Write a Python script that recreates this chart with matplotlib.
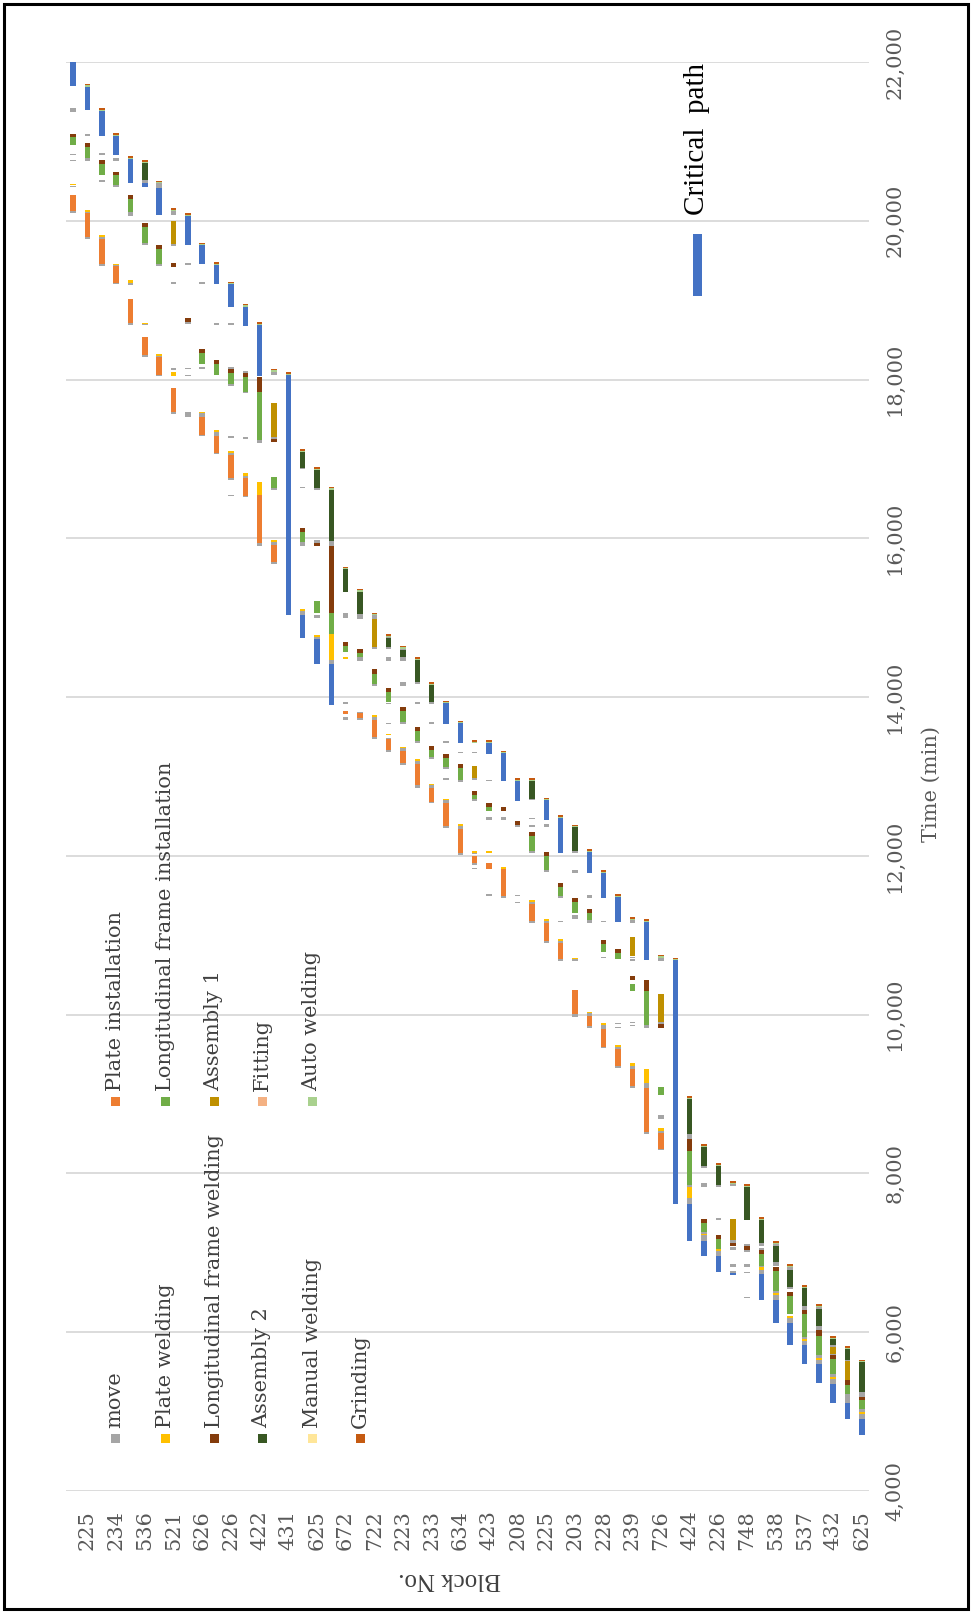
import matplotlib
matplotlib.use('Agg')
import matplotlib.pyplot as plt
from matplotlib.patches import Rectangle
from matplotlib.ticker import FuncFormatter

# ── block rows (only every other row carries a printed number) ──
BLOCK_LABELS = ['225', '234', '536', '521', '626', '226', '422', '431', '625', '672',
                '722', '223', '233', '634', '423', '208', '225', '203', '228', '239',
                '726', '424', '226', '748', '538', '537', '432', '625']
N_ROWS = 56

# ── task segments: (row, start_min, end_min) ──
MOVE = [
    (0, 20100, 20120), (0, 20420, 20440), (0, 20750, 20770), (0, 20830, 20840), (0, 21370, 21420),
    (1, 19770, 19790), (1, 20100, 20115), (1, 20750, 20790), (1, 21070, 21090),
    (2, 19430, 19460), (2, 19770, 19800), (2, 20490, 20510), (2, 20830, 20860),
    (3, 19200, 19210), (3, 19430, 19445), (3, 20420, 20450), (3, 20750, 20790),
    (4, 18690, 18715), (4, 19190, 19215), (4, 20060, 20110),
    (5, 18280, 18310), (5, 18690, 18700), (5, 19690, 19715), (5, 20470, 20510),
    (6, 18050, 18060), (6, 18280, 18300), (6, 19430, 19460), (6, 20415, 20470),
    (7, 17565, 17590), (7, 18120, 18140), (7, 18695, 18705), (7, 19200, 19230), (7, 19685, 19705), (7, 20072, 20120),
    (8, 17530, 17590), (8, 18050, 18060), (8, 18130, 18145), (8, 18700, 18720), (8, 19440, 19470),
    (9, 17290, 17300), (9, 17530, 17575), (9, 18130, 18160), (9, 19200, 19230),
    (10, 17060, 17070), (10, 17290, 17345), (10, 18690, 18715),
    (11, 16530, 16540), (11, 16740, 16755), (11, 17045, 17070), (11, 17270, 17290), (11, 17920, 17940),
    (11, 18127, 18160), (11, 18690, 18715),
    (12, 16520, 16530), (12, 16755, 16790), (12, 17255, 17280), (12, 17825, 17845), (12, 18077, 18110),
    (13, 15905, 15935), (13, 17205, 17240),
    (14, 15680, 15700), (14, 15915, 15955), (14, 16610, 16630), (14, 17250, 17280), (14, 18056, 18098),
    (16, 15030, 15080), (16, 15905, 15955), (16, 16640, 16650), (16, 16870, 16888),
    (17, 14730, 14760), (17, 15000, 15030), (17, 15940, 15975), (17, 16610, 16630),
    (18, 14420, 14465), (18, 15905, 15965),
    (19, 13715, 13750), (19, 13910, 13940), (19, 15000, 15065),
    (20, 13715, 13743), (20, 13800, 13815), (20, 14450, 14500), (20, 14990, 15045),
    (21, 13470, 13500), (21, 13715, 13750), (21, 14140, 14170), (21, 14600, 14625), (21, 14982, 15032),
    (22, 13310, 13330), (22, 13470, 13490), (22, 13665, 13675), (22, 13915, 13925), (22, 14455, 14500),
    (22, 14600, 14635), (22, 14740, 14760),
    (23, 13150, 13170), (23, 13315, 13355), (23, 13660, 13690), (23, 14145, 14185), (23, 14460, 14500),
    (23, 14590, 14610),
    (24, 12860, 12890), (24, 13155, 13190), (24, 13420, 13450), (24, 13910, 13935), (24, 14170, 14195),
    (25, 12660, 12680), (25, 12860, 12890), (25, 13215, 13240), (25, 13660, 13690), (25, 13915, 13940),
    (26, 12345, 12375), (26, 12670, 12700), (26, 12950, 12980), (26, 13090, 13115), (26, 13425, 13450),
    (27, 12010, 12040), (27, 12335, 12380), (27, 12935, 12960), (27, 13295, 13310),
    (28, 11830, 11850), (28, 11890, 11910), (28, 12020, 12040), (28, 12690, 12720), (28, 12950, 12975),
    (28, 13295, 13310),
    (29, 11495, 11520), (29, 12455, 12485), (29, 12940, 12950), (29, 12990, 13000),
    (30, 11470, 11500), (30, 12455, 12485),
    (31, 11410, 11420), (31, 11495, 11505), (31, 12360, 12390),
    (32, 11150, 11175), (32, 11400, 11420), (32, 12040, 12065), (32, 12360, 12395), (32, 12460, 12480),
    (32, 12700, 12720),
    (33, 10900, 10925), (33, 11155, 11180), (33, 11795, 11820), (33, 12365, 12405),
    (34, 10680, 10700), (34, 10905, 10930), (34, 11170, 11180), (34, 11470, 11495),
    (35, 9975, 10005), (35, 10675, 10700), (35, 11210, 11250), (35, 11785, 11825), (35, 12035, 12065),
    (36, 9830, 9855), (36, 9985, 10015), (36, 11160, 11190), (36, 11475, 11505),
    (37, 9575, 9595), (37, 9815, 9875), (37, 10715, 10730), (37, 11170, 11180), (37, 11250, 11260),
    (38, 9330, 9350), (38, 9570, 9595), (38, 9830, 9840), (38, 9880, 9890),
    (39, 9080, 9100), (39, 9320, 9350), (39, 9860, 9875), (39, 9890, 9910), (39, 10680, 10700),
    (39, 10710, 10730), (39, 11150, 11190),
    (40, 8500, 8520), (40, 9080, 9140), (40, 9830, 9865),
    (41, 8290, 8305), (41, 8505, 8540), (41, 8680, 8730), (41, 9880, 9905), (41, 10677, 10719),
    (43, 7620, 7690), (43, 7830, 7860), (43, 8440, 8500),
    (44, 7155, 7225), (44, 7240, 7260), (44, 7830, 7880), (44, 8070, 8100),
    (45, 6955, 7020), (45, 7410, 7445), (45, 7830, 7860),
    (46, 6740, 6770), (46, 6820, 6865), (46, 7030, 7070), (46, 7130, 7160), (46, 7837, 7865),
    (47, 6435, 6445), (47, 6740, 6755), (47, 6820, 6865), (47, 7010, 7030), (47, 7085, 7110),
    (48, 6730, 6785), (48, 6820, 6840), (48, 7040, 7065), (48, 7080, 7130),
    (49, 6400, 6465), (49, 6500, 6525), (49, 6840, 6885), (49, 7080, 7115),
    (50, 6115, 6180), (50, 6540, 6575), (50, 6785, 6820),
    (51, 5835, 5895), (51, 5915, 5945), (51, 6275, 6330),
    (52, 5595, 5655), (52, 5680, 5710), (52, 6025, 6080), (52, 6290, 6320),
    (53, 5350, 5405), (53, 5435, 5470), (53, 5710, 5730), (53, 5820, 5845),
    (54, 5110, 5225), (54, 5635, 5655),
    (55, 4910, 4965), (55, 4995, 5035), (55, 5190, 5245),
]

PLATE_INST = [
    (0, 20120, 20330), (1, 19790, 20100), (2, 19460, 19770), (3, 19210, 19430), (4, 18715, 19010),
    (5, 18310, 18530), (6, 18060, 18280), (7, 17590, 17890), (9, 17300, 17530), (10, 17070, 17290),
    (11, 16755, 17045), (12, 16530, 16755), (13, 15935, 16545), (14, 15700, 15915), (19, 13785, 13830),
    (20, 13743, 13800), (21, 13500, 13715), (22, 13330, 13470), (23, 13170, 13315), (24, 12890, 13155),
    (25, 12680, 12860), (26, 12375, 12670), (27, 12040, 12335), (28, 11910, 12000), (29, 11830, 11910),
    (30, 11500, 11840), (32, 11175, 11400), (33, 10925, 11155), (34, 10700, 10905), (35, 10005, 10315),
    (36, 9855, 9985), (37, 9595, 9815), (38, 9350, 9570), (39, 9100, 9320), (40, 8520, 9080),
    (41, 8305, 8505),
]

PLATE_WELD = [
    (0, 20450, 20466), (1, 20115, 20140), (2, 19800, 19815), (3, 19445, 19460), (4, 19215, 19250),
    (5, 18700, 18715), (6, 18300, 18320), (7, 18050, 18090), (9, 17575, 17595), (10, 17345, 17370),
    (11, 17070, 17095), (12, 16790, 16820), (13, 16545, 16710), (14, 15955, 15985), (16, 15083, 15108),
    (17, 14760, 14780), (18, 14465, 14800), (19, 14480, 14500), (21, 13750, 13772), (22, 13520, 13535),
    (23, 13355, 13375), (24, 13190, 13220), (25, 12890, 12910), (26, 12700, 12720), (27, 12380, 12405),
    (28, 12040, 12063), (29, 12040, 12060), (30, 11840, 11865), (32, 11420, 11440), (33, 11180, 11200),
    (34, 10930, 10950), (35, 10700, 10720), (36, 10015, 10035), (37, 9875, 9895), (38, 9595, 9615),
    (39, 9350, 9385), (40, 9140, 9310), (41, 8540, 8575), (43, 7690, 7830), (44, 7225, 7240),
    (45, 7020, 7045), (48, 6785, 6820), (49, 6465, 6500), (50, 6180, 6200), (51, 5895, 5915),
    (52, 5655, 5680), (53, 5405, 5435), (55, 4965, 4995),
]

LONG_INST = [
    (0, 20950, 21050), (1, 20790, 20930), (2, 20580, 20710), (3, 20450, 20580), (4, 20110, 20280),
    (5, 19715, 19920), (6, 19460, 19650), (9, 18200, 18340), (10, 18055, 18200), (11, 17940, 18077),
    (12, 17845, 18035), (13, 17240, 17845), (14, 16630, 16770), (16, 15955, 16075), (17, 15065, 15210),
    (18, 14800, 15065), (19, 14570, 14640), (20, 14500, 14557), (21, 14170, 14297), (22, 13940, 14065),
    (23, 13690, 13827), (24, 13450, 13575), (25, 13240, 13340), (26, 13115, 13235), (27, 12960, 13110),
    (28, 12720, 12765), (29, 12560, 12620), (32, 12065, 12250), (33, 11820, 12000), (34, 11495, 11610),
    (35, 11280, 11420), (36, 11190, 11280), (37, 10790, 10895), (38, 10705, 10780), (39, 10300, 10380),
    (40, 9865, 10300), (41, 8990, 9095), (43, 7860, 8285), (44, 7260, 7380), (45, 7045, 7170),
    (48, 6840, 6990), (49, 6525, 6770), (50, 6225, 6455), (51, 5945, 6225), (52, 5710, 5955),
    (53, 5470, 5660), (54, 5225, 5340), (55, 5035, 5140),
]

LONG_WELD = [
    (0, 21050, 21090), (1, 20930, 20980), (2, 20710, 20760), (3, 20580, 20620), (4, 20280, 20330),
    (5, 19920, 19970), (6, 19650, 19700), (7, 19420, 19470), (8, 18720, 18770), (9, 18340, 18390),
    (10, 18200, 18250), (11, 18077, 18127), (12, 18035, 18077), (13, 17845, 18035), (14, 17210, 17250),
    (16, 16075, 16125), (17, 15905, 15940), (18, 15065, 15905), (19, 14640, 14695), (20, 14557, 14612),
    (21, 14297, 14350), (22, 14065, 14110), (23, 13827, 13877), (24, 13575, 13625), (25, 13340, 13385),
    (26, 13235, 13280), (27, 13110, 13160), (28, 12765, 12815), (29, 12620, 12665), (30, 12560, 12610),
    (31, 12390, 12445), (32, 12250, 12300), (33, 12000, 12050), (34, 11610, 11660), (35, 11420, 11475),
    (36, 11280, 11335), (37, 10895, 10945), (38, 10780, 10830), (39, 10440, 10490), (40, 10300, 10435),
    (41, 9835, 9880), (43, 8285, 8440), (44, 7380, 7430), (45, 7170, 7220), (46, 7080, 7130),
    (47, 7030, 7085), (48, 6990, 7040), (49, 6770, 6820), (50, 6455, 6505), (51, 6225, 6275),
    (52, 5955, 6025), (53, 5660, 5710), (54, 5340, 5400), (55, 5140, 5190),
]

ASSEMBLY1 = [
    (7, 19705, 20000), (14, 17280, 17700), (21, 14625, 14980), (28, 12975, 13130), (39, 10735, 10980),
    (41, 9905, 10265), (46, 7160, 7430), (53, 5730, 5820), (54, 5400, 5635),
]

ASSEMBLY2 = [
    (5, 20510, 20730), (16, 16888, 17090), (17, 16630, 16860), (18, 15965, 16615), (19, 15325, 15610),
    (20, 15045, 15330), (22, 14635, 14740), (23, 14500, 14590), (24, 14195, 14465), (25, 13940, 14150),
    (32, 12720, 12940), (35, 12065, 12360), (43, 8500, 8935), (44, 8100, 8335), (45, 7860, 8095),
    (47, 7410, 7830), (48, 7130, 7415), (49, 6885, 7080), (50, 6575, 6785), (51, 6330, 6555),
    (52, 6080, 6290), (53, 5845, 5915), (54, 5655, 5790), (55, 5245, 5620),
]

AUTO_WELD = [
    (1, 21690, 21705), (2, 21380, 21395), (3, 21070, 21085), (4, 20780, 20795), (5, 20730, 20745),
    (6, 20470, 20485), (7, 20120, 20135), (8, 20060, 20075), (9, 19690, 19705), (10, 19440, 19455),
    (11, 19200, 19215), (12, 18920, 18935), (13, 18685, 18700), (14, 18100, 18115), (15, 18055, 18070),
    (16, 17090, 17105), (17, 16860, 16875), (18, 16615, 16630), (19, 15610, 15625), (20, 15330, 15345),
    (21, 15030, 15045), (22, 14760, 14775), (23, 14610, 14625), (24, 14465, 14480), (25, 14150, 14165),
    (26, 13920, 13935), (27, 13670, 13685), (28, 13425, 13440), (29, 13420, 13435), (30, 13290, 13305),
    (31, 12940, 12955), (32, 12940, 12955), (33, 12700, 12715), (34, 12480, 12495), (35, 12360, 12375),
    (36, 12050, 12065), (37, 11785, 11800), (38, 11485, 11500), (39, 11190, 11205), (40, 11170, 11185),
    (41, 10720, 10735), (42, 10685, 10700), (43, 8935, 8950), (44, 8335, 8350), (45, 8095, 8110),
    (46, 7865, 7880), (47, 7830, 7845), (48, 7415, 7430), (49, 7115, 7130), (50, 6820, 6835),
    (51, 6555, 6570), (52, 6320, 6335), (53, 5915, 5930), (54, 5790, 5805), (55, 5620, 5635),
]

GRINDING = [
    (1, 21705, 21725), (2, 21395, 21415), (3, 21085, 21105), (4, 20795, 20815), (5, 20745, 20765),
    (6, 20485, 20505), (7, 20135, 20155), (8, 20075, 20095), (9, 19705, 19725), (10, 19455, 19475),
    (11, 19215, 19235), (12, 18935, 18955), (13, 18700, 18720), (14, 18115, 18135), (15, 18070, 18090),
    (16, 17105, 17125), (17, 16875, 16895), (18, 16630, 16650), (19, 15625, 15645), (20, 15345, 15365),
    (21, 15045, 15065), (22, 14775, 14795), (23, 14625, 14645), (24, 14480, 14500), (25, 14165, 14185),
    (26, 13935, 13955), (27, 13685, 13705), (28, 13440, 13460), (29, 13435, 13455), (30, 13305, 13325),
    (31, 12955, 12975), (32, 12955, 12975), (33, 12715, 12735), (34, 12495, 12515), (35, 12375, 12395),
    (36, 12065, 12085), (37, 11800, 11820), (38, 11500, 11520), (39, 11205, 11225), (40, 11185, 11205),
    (41, 10735, 10755), (42, 10700, 10720), (43, 8950, 8970), (44, 8350, 8370), (45, 8110, 8130),
    (46, 7880, 7900), (47, 7845, 7865), (48, 7430, 7450), (49, 7130, 7150), (50, 6835, 6855),
    (51, 6570, 6590), (52, 6335, 6355), (53, 5930, 5950), (54, 5805, 5825), (55, 5635, 5655),
]

CRITICAL = [
    (0, 21700, 22000), (1, 21390, 21690), (2, 21070, 21380), (3, 20830, 21070), (4, 20480, 20780),
    (5, 20425, 20470), (6, 20070, 20415), (8, 19690, 20060), (9, 19455, 19690), (10, 19200, 19440),
    (11, 18920, 19200), (12, 18670, 18920), (13, 18045, 18685), (15, 15030, 18056), (16, 14740, 15030),
    (17, 14420, 14730), (18, 13900, 14420), (26, 13660, 13920), (27, 13425, 13670), (29, 13280, 13420),
    (30, 12940, 13290), (31, 12690, 12940), (33, 12450, 12700), (34, 12035, 12480), (36, 11785, 12050),
    (37, 11475, 11785), (38, 11170, 11485), (40, 10685, 11170), (42, 7620, 10685), (43, 7155, 7620),
    (44, 6960, 7155), (45, 6760, 6955), (46, 6715, 6740), (48, 6400, 6730), (49, 6115, 6400),
    (50, 5845, 6115), (51, 5595, 5835), (52, 5360, 5595), (53, 5110, 5350), (54, 4910, 5110),
    (55, 4710, 4910),
]

FITTING = []
MANUAL_WELD = []

# legend order of the original chart
TASKS = [
    ('move', '#A5A5A5', MOVE),
    ('Plate installation', '#ED7D31', PLATE_INST),
    ('Plate welding', '#FFC000', PLATE_WELD),
    ('Longitudinal frame installation', '#70AD47', LONG_INST),
    ('Longitudinal frame welding', '#843C0C', LONG_WELD),
    ('Assembly 1', '#BF9000', ASSEMBLY1),
    ('Assembly 2', '#385723', ASSEMBLY2),
    ('Fitting', '#F4B183', FITTING),
    ('Manual welding', '#FFE699', MANUAL_WELD),
    ('Auto welding', '#A9D18E', AUTO_WELD),
    ('Grinding', '#C55A11', GRINDING),
]
CRIT_COLOR = '#4472C4'

TEXT_FONT = ['DejaVu Serif']
TITLE_FONT = ['Liberation Serif', 'DejaVu Serif']

W, H = 971, 1613
fig = plt.figure(figsize=(W / 100, H / 100), dpi=100)
ax = fig.add_axes([66 / W, 1 - 1491 / H, 803 / W, 1429 / H])

BAR_W = 0.38
for name, color, segs in TASKS + [('Critical path', CRIT_COLOR, CRITICAL)]:
    if not segs:
        continue
    rows = [s[0] for s in segs]
    starts = [s[1] for s in segs]
    lens = [s[2] - s[1] for s in segs]
    ax.bar(rows, lens, bottom=starts, width=BAR_W, color=color, linewidth=0, zorder=3)

ax.set_xlim(-0.5, N_ROWS - 0.5)
ax.set_ylim(4000, 22000)
ax.set_yticks(range(4000, 22001, 2000))
ax.yaxis.set_major_formatter(FuncFormatter(lambda v, p: f'{int(v):,}'))
ax.yaxis.tick_right()
ax.set_xticks(range(1, N_ROWS, 2))
ax.set_xticklabels(BLOCK_LABELS)
ax.tick_params(axis='y', length=0, pad=12, labelsize=15, labelcolor='#595959', labelrotation=90)
ax.tick_params(axis='x', length=0, pad=14, labelsize=15, labelcolor='#595959', labelrotation=90)
for lbl in ax.get_xticklabels() + ax.get_yticklabels():
    lbl.set_family(TEXT_FONT)
for lbl in ax.get_yticklabels():
    lbl.set_va('center')
ax.grid(axis='y', color='#D9D9D9', linewidth=1.3, zorder=0)
ax.set_axisbelow(True)
for sp in ax.spines.values():
    sp.set_visible(False)

# axis titles
fig.text(931 / W, 1 - 784 / H, 'Time (min)', rotation=90, ha='center', va='center',
         fontsize=15, color='#595959', family=TEXT_FONT)
fig.text(450 / W, 1 - 1579 / H, 'Block No.', rotation=180, ha='center', va='center',
         fontsize=18, color='#404040', family=TITLE_FONT)

# legend, two stacks of rotated entries
leg_x = [115, 165, 214, 262, 312, 360]
for i, (name, color, _) in enumerate(TASKS):
    col = i // 2
    x = leg_x[col]
    my = 1438 if i % 2 == 0 else 1101
    fig.patches.append(Rectangle(((x - 4.5) / W, 1 - (my + 4.5) / H), 9 / W, 9 / H,
                                 transform=fig.transFigure, facecolor=color, edgecolor='none'))
    fig.text(x / W, 1 - (my - 10) / H, name, rotation=90, ha='center', va='bottom',
             fontsize=15, color='#404040', family=TEXT_FONT)

# critical path key
fig.patches.append(Rectangle((693 / W, 1 - 296 / H), 9 / W, 62 / H, transform=fig.transFigure,
                             facecolor=CRIT_COLOR, edgecolor='none'))
fig.text(697 / W, 1 - 139 / H, 'Critical  path', rotation=90, ha='center', va='center',
         fontsize=21, color='black', family=TITLE_FONT)

# outer frame
fig.patches.append(Rectangle((4 / W, 4 / H), 964 / W, 1605 / H, transform=fig.transFigure,
                             fill=False, edgecolor='black', linewidth=2.2))

fig.savefig('out.png', dpi=100)
